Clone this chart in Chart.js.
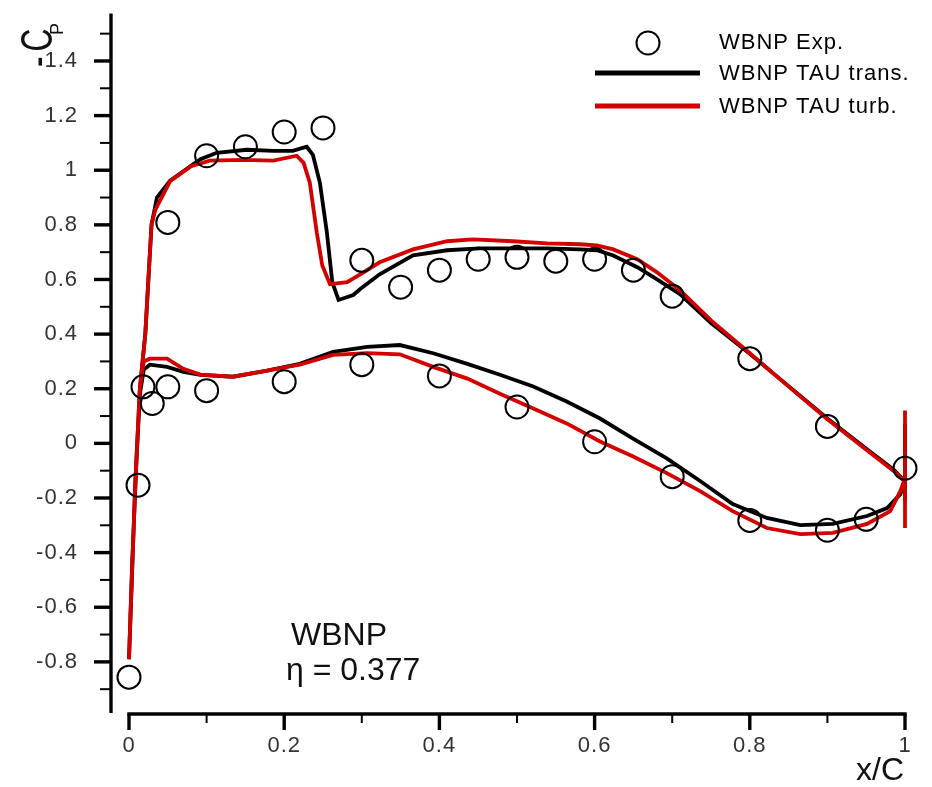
<!DOCTYPE html>
<html><head><meta charset="utf-8">
<script src="https://cdn.jsdelivr.net/npm/chart.js@4/dist/chart.umd.min.js"></script>
<style>html,body{margin:0;padding:0;background:#fff;}canvas{display:block;}</style>
</head><body>
<canvas id="c" width="932" height="787"></canvas>
<script>
// ---------- data ----------
const seriesNames = ['WBNP Exp.', 'WBNP TAU trans.', 'WBNP TAU turb.'];

const expX = [0, 0.0116, 0.018, 0.030, 0.050, 0.100, 0.200, 0.300, 0.400, 0.500, 0.600, 0.700, 0.800, 0.900, 0.950, 1.000,
              0.050, 0.100, 0.150, 0.200, 0.250, 0.300, 0.350, 0.400, 0.450, 0.500, 0.550, 0.600, 0.650, 0.700, 0.800, 0.900];
const expY = [-0.856, -0.153, 0.207, 0.146, 0.207, 0.193, 0.226, 0.288, 0.247, 0.133, 0.006, -0.122, -0.282, -0.318, -0.278, -0.091,
              0.809, 1.053, 1.086, 1.140, 1.155, 0.670, 0.572, 0.634, 0.674, 0.681, 0.667, 0.674, 0.634, 0.539, 0.310, 0.062];

// TAU transitional: trailing edge -> upper surface -> leading edge -> lower surface -> trailing edge
const transX = [1.0, 1.0, 1.0, 0.985, 0.951, 0.900, 0.843, 0.800, 0.750, 0.710, 0.680, 0.655, 0.624, 0.603, 0.581, 0.539, 0.495, 0.452, 0.410, 0.366, 0.323, 0.298, 0.289, 0.270,
                0.262, 0.255, 0.246, 0.237, 0.229, 0.211, 0.186, 0.152, 0.113, 0.092, 0.053, 0.036, 0.029, 0.025, 0.021, 0.014, 0.008, 0.003, 0.0,
                0.004, 0.009, 0.014, 0.019, 0.027, 0.049, 0.070, 0.092, 0.134, 0.178, 0.220, 0.263, 0.307, 0.349, 0.392, 0.436, 0.478, 0.521, 0.564,
                0.607, 0.649, 0.693, 0.736, 0.778, 0.822, 0.865, 0.907, 0.951, 0.977, 0.994, 1.0];
const transY = [-0.21, 0.07, -0.14, -0.095, -0.022, 0.091, 0.226, 0.328, 0.440, 0.546, 0.601, 0.645, 0.688, 0.707, 0.710, 0.714, 0.714, 0.714, 0.707, 0.688, 0.619, 0.565, 0.543, 0.525,
                0.590, 0.772, 0.954, 1.056, 1.086, 1.071, 1.071, 1.075, 1.064, 1.040, 0.962, 0.900, 0.800, 0.600, 0.400, 0.200, -0.150, -0.550, -0.790,
                -0.450, -0.100, 0.180, 0.270, 0.288, 0.280, 0.262, 0.251, 0.244, 0.266, 0.291, 0.335, 0.353, 0.360, 0.330, 0.291, 0.251, 0.208, 0.153,
                0.091, 0.018, -0.055, -0.138, -0.222, -0.273, -0.299, -0.295, -0.266, -0.237, -0.186, -0.140];

// TAU fully turbulent
const turbX = [1.0, 1.0, 1.0, 0.985, 0.951, 0.900, 0.843, 0.800, 0.750, 0.710, 0.680, 0.655, 0.624, 0.603, 0.581, 0.539, 0.495, 0.443, 0.410, 0.366, 0.323, 0.298, 0.281, 0.259,
               0.249, 0.242, 0.233, 0.225, 0.216, 0.186, 0.147, 0.104, 0.080, 0.053, 0.034, 0.029, 0.025, 0.021, 0.014, 0.008, 0.003, 0.0,
               0.004, 0.009, 0.014, 0.019, 0.027, 0.049, 0.070, 0.092, 0.134, 0.178, 0.220, 0.263, 0.307, 0.349, 0.392, 0.436, 0.478, 0.521, 0.564,
               0.607, 0.649, 0.693, 0.736, 0.778, 0.822, 0.865, 0.907, 0.951, 0.981, 0.994, 1.0];
const turbY = [0.12, -0.31, -0.14, -0.100, -0.025, 0.088, 0.225, 0.330, 0.450, 0.561, 0.627, 0.674, 0.710, 0.725, 0.729, 0.732, 0.740, 0.747, 0.740, 0.710, 0.663, 0.619, 0.590, 0.583,
               0.652, 0.772, 0.954, 1.027, 1.053, 1.035, 1.038, 1.035, 1.015, 0.960, 0.856, 0.800, 0.600, 0.400, 0.200, -0.150, -0.550, -0.790,
               -0.450, -0.100, 0.200, 0.300, 0.310, 0.310, 0.273, 0.252, 0.244, 0.266, 0.288, 0.324, 0.330, 0.326, 0.280, 0.237, 0.182, 0.128, 0.073,
               0.007, -0.047, -0.109, -0.175, -0.248, -0.310, -0.332, -0.328, -0.295, -0.248, -0.175, -0.127];

const yTickValues = [-0.8, -0.6, -0.4, -0.2, 0, 0.2, 0.4, 0.6, 0.8, 1, 1.2, 1.4];
const yMinorValues = [-0.9, -0.7, -0.5, -0.3, -0.1, 0.1, 0.3, 0.5, 0.7, 0.9, 1.1, 1.3, 1.5];
const xTickValues = [0, 0.2, 0.4, 0.6, 0.8, 1];
const xMinorValues = [0.1, 0.3, 0.5, 0.7, 0.9];

const xTitle = 'x/C';
const yTitleMain = 'C';
const yTitleSub = 'P';
const noteLine1 = 'WBNP';
const noteLine2 = 'η = 0.377';

// ---------- drawing ----------
const FONT = "'Liberation Sans', Arial, Helvetica, sans-serif";
const RED = '#d40000';
const toPts = (xs, ys) => xs.map((v, i) => ({x: v, y: ys[i]}));
const fmt = v => String(Math.round(v * 10) / 10);

const tecplotPlugin = {
  id: 'tecplot',
  beforeDraw(chart) {
    chart.ctx.letterSpacing = '1px';
  },
  afterDraw(chart) {
    const {ctx, chartArea: ca, scales: {x, y}} = chart;
    ctx.save();
    ctx.letterSpacing = '0px';
    ctx.strokeStyle = '#000';
    ctx.fillStyle = '#000';
    ctx.lineCap = 'butt';
    // y axis
    ctx.lineWidth = 3.4;
    ctx.beginPath(); ctx.moveTo(ca.left, ca.top); ctx.lineTo(ca.left, ca.bottom); ctx.stroke();
    yTickValues.forEach(v => {
      const py = y.getPixelForValue(v);
      ctx.lineWidth = 3.4;
      ctx.beginPath(); ctx.moveTo(ca.left - 17, py); ctx.lineTo(ca.left, py); ctx.stroke();
    });
    yMinorValues.forEach(v => {
      const py = y.getPixelForValue(v);
      ctx.lineWidth = 2;
      ctx.beginPath(); ctx.moveTo(ca.left - 11, py); ctx.lineTo(ca.left, py); ctx.stroke();
    });
    // x axis
    const x0 = x.getPixelForValue(0), x1 = x.getPixelForValue(1);
    const ay = ca.bottom + 1;
    ctx.lineWidth = 3.6;
    ctx.beginPath(); ctx.moveTo(x0 - 1.7, ay); ctx.lineTo(x1 + 1.7, ay); ctx.stroke();
    xTickValues.forEach(v => {
      const px = x.getPixelForValue(v);
      ctx.lineWidth = 3.4;
      ctx.beginPath(); ctx.moveTo(px, ay); ctx.lineTo(px, ay + 16); ctx.stroke();
    });
    xMinorValues.forEach(v => {
      const px = x.getPixelForValue(v);
      ctx.lineWidth = 2;
      ctx.beginPath(); ctx.moveTo(px, ay); ctx.lineTo(px, ay + 9); ctx.stroke();
    });

    // x title
    ctx.font = '32px ' + FONT;
    ctx.textAlign = 'right';
    ctx.textBaseline = 'alphabetic';
    ctx.fillStyle = '#111';
    ctx.fillText(xTitle, x1 - 1, 780);

    // y title: -C with subscript P, rotated
    ctx.save();
    ctx.translate(52, 67);
    ctx.rotate(-Math.PI / 2);
    ctx.save();
    ctx.scale(0.72, 1);
    ctx.font = '44px ' + FONT;
    ctx.textAlign = 'left';
    ctx.fillText('-', 0, 0);
    ctx.fillText(yTitleMain, 15.5 / 0.72, 0);
    ctx.restore();
    ctx.font = '18px ' + FONT;
    ctx.fillText(yTitleSub, 44, 11);
    ctx.restore();

    // legend
    ctx.textAlign = 'left';
    ctx.textBaseline = 'middle';
    ctx.font = '22px ' + FONT;
    ctx.letterSpacing = '1px';
    ctx.fillStyle = '#000';
    ctx.lineWidth = 2;
    ctx.beginPath(); ctx.arc(648, 43, 11.5, 0, Math.PI * 2); ctx.stroke();
    ctx.fillText(seriesNames[0], 719, 43);
    ctx.lineWidth = 5;
    ctx.strokeStyle = '#000';
    ctx.beginPath(); ctx.moveTo(595, 73); ctx.lineTo(700, 73); ctx.stroke();
    ctx.fillText(seriesNames[1], 719, 74);
    ctx.strokeStyle = RED;
    ctx.beginPath(); ctx.moveTo(595, 106); ctx.lineTo(700, 106); ctx.stroke();
    ctx.fillText(seriesNames[2], 719, 107);

    // annotation
    ctx.letterSpacing = '0px';
    ctx.font = '32px ' + FONT;
    ctx.textBaseline = 'alphabetic';
    ctx.fillStyle = '#111';
    ctx.fillText(noteLine1, 291, 645);
    ctx.fillText(noteLine2, 286, 680);
    ctx.restore();
  }
};

Chart.defaults.font.family = FONT;

new Chart(document.getElementById('c'), {
  type: 'scatter',
  data: {
    datasets: [
      {
        label: seriesNames[0],
        data: toPts(expX, expY),
        showLine: false,
        pointStyle: 'circle',
        pointRadius: 11.5,
        pointBorderWidth: 2,
        pointBackgroundColor: 'rgba(0,0,0,0)',
        pointBorderColor: '#000',
        clip: false,
        order: 0
      },
      {
        label: seriesNames[2],
        data: toPts(turbX, turbY),
        showLine: true,
        borderColor: RED,
        borderWidth: 3.8,
        pointRadius: 0,
        tension: 0,
        clip: false,
        order: 1
      },
      {
        label: seriesNames[1],
        data: toPts(transX, transY),
        showLine: true,
        borderColor: '#000',
        borderWidth: 3.8,
        pointRadius: 0,
        tension: 0,
        clip: false,
        order: 2
      }
    ]
  },
  options: {
    responsive: false,
    devicePixelRatio: 1,
    animation: false,
    events: [],
    layout: {padding: {top: 10, right: 27, left: 0, bottom: 0}},
    plugins: {legend: {display: false}, tooltip: {enabled: false}},
    scales: {
      x: {
        type: 'linear',
        min: -0.0232,
        max: 1,
        grid: {display: false},
        border: {display: false},
        afterBuildTicks: s => { s.ticks = xTickValues.map(v => ({value: v})); },
        afterFit: s => { s.height = 74; s.paddingLeft = 0; s.paddingRight = 0; },
        ticks: {
          callback: v => fmt(v),
          font: {size: 22, family: FONT},
          color: '#333',
          padding: 12,
          maxRotation: 0,
          autoSkip: false
        }
      },
      y: {
        type: 'linear',
        min: -0.9872,
        max: 1.5738,
        grid: {display: false},
        border: {display: false},
        afterBuildTicks: s => { s.ticks = yTickValues.map(v => ({value: v})); },
        afterFit: s => { s.width = 111; s.paddingTop = 0; s.paddingBottom = 0; },
        ticks: {
          callback: v => fmt(v),
          font: {size: 22, family: FONT},
          color: '#333',
          padding: 25,
          autoSkip: false
        }
      }
    }
  },
  plugins: [tecplotPlugin]
});
</script>
</body></html>
